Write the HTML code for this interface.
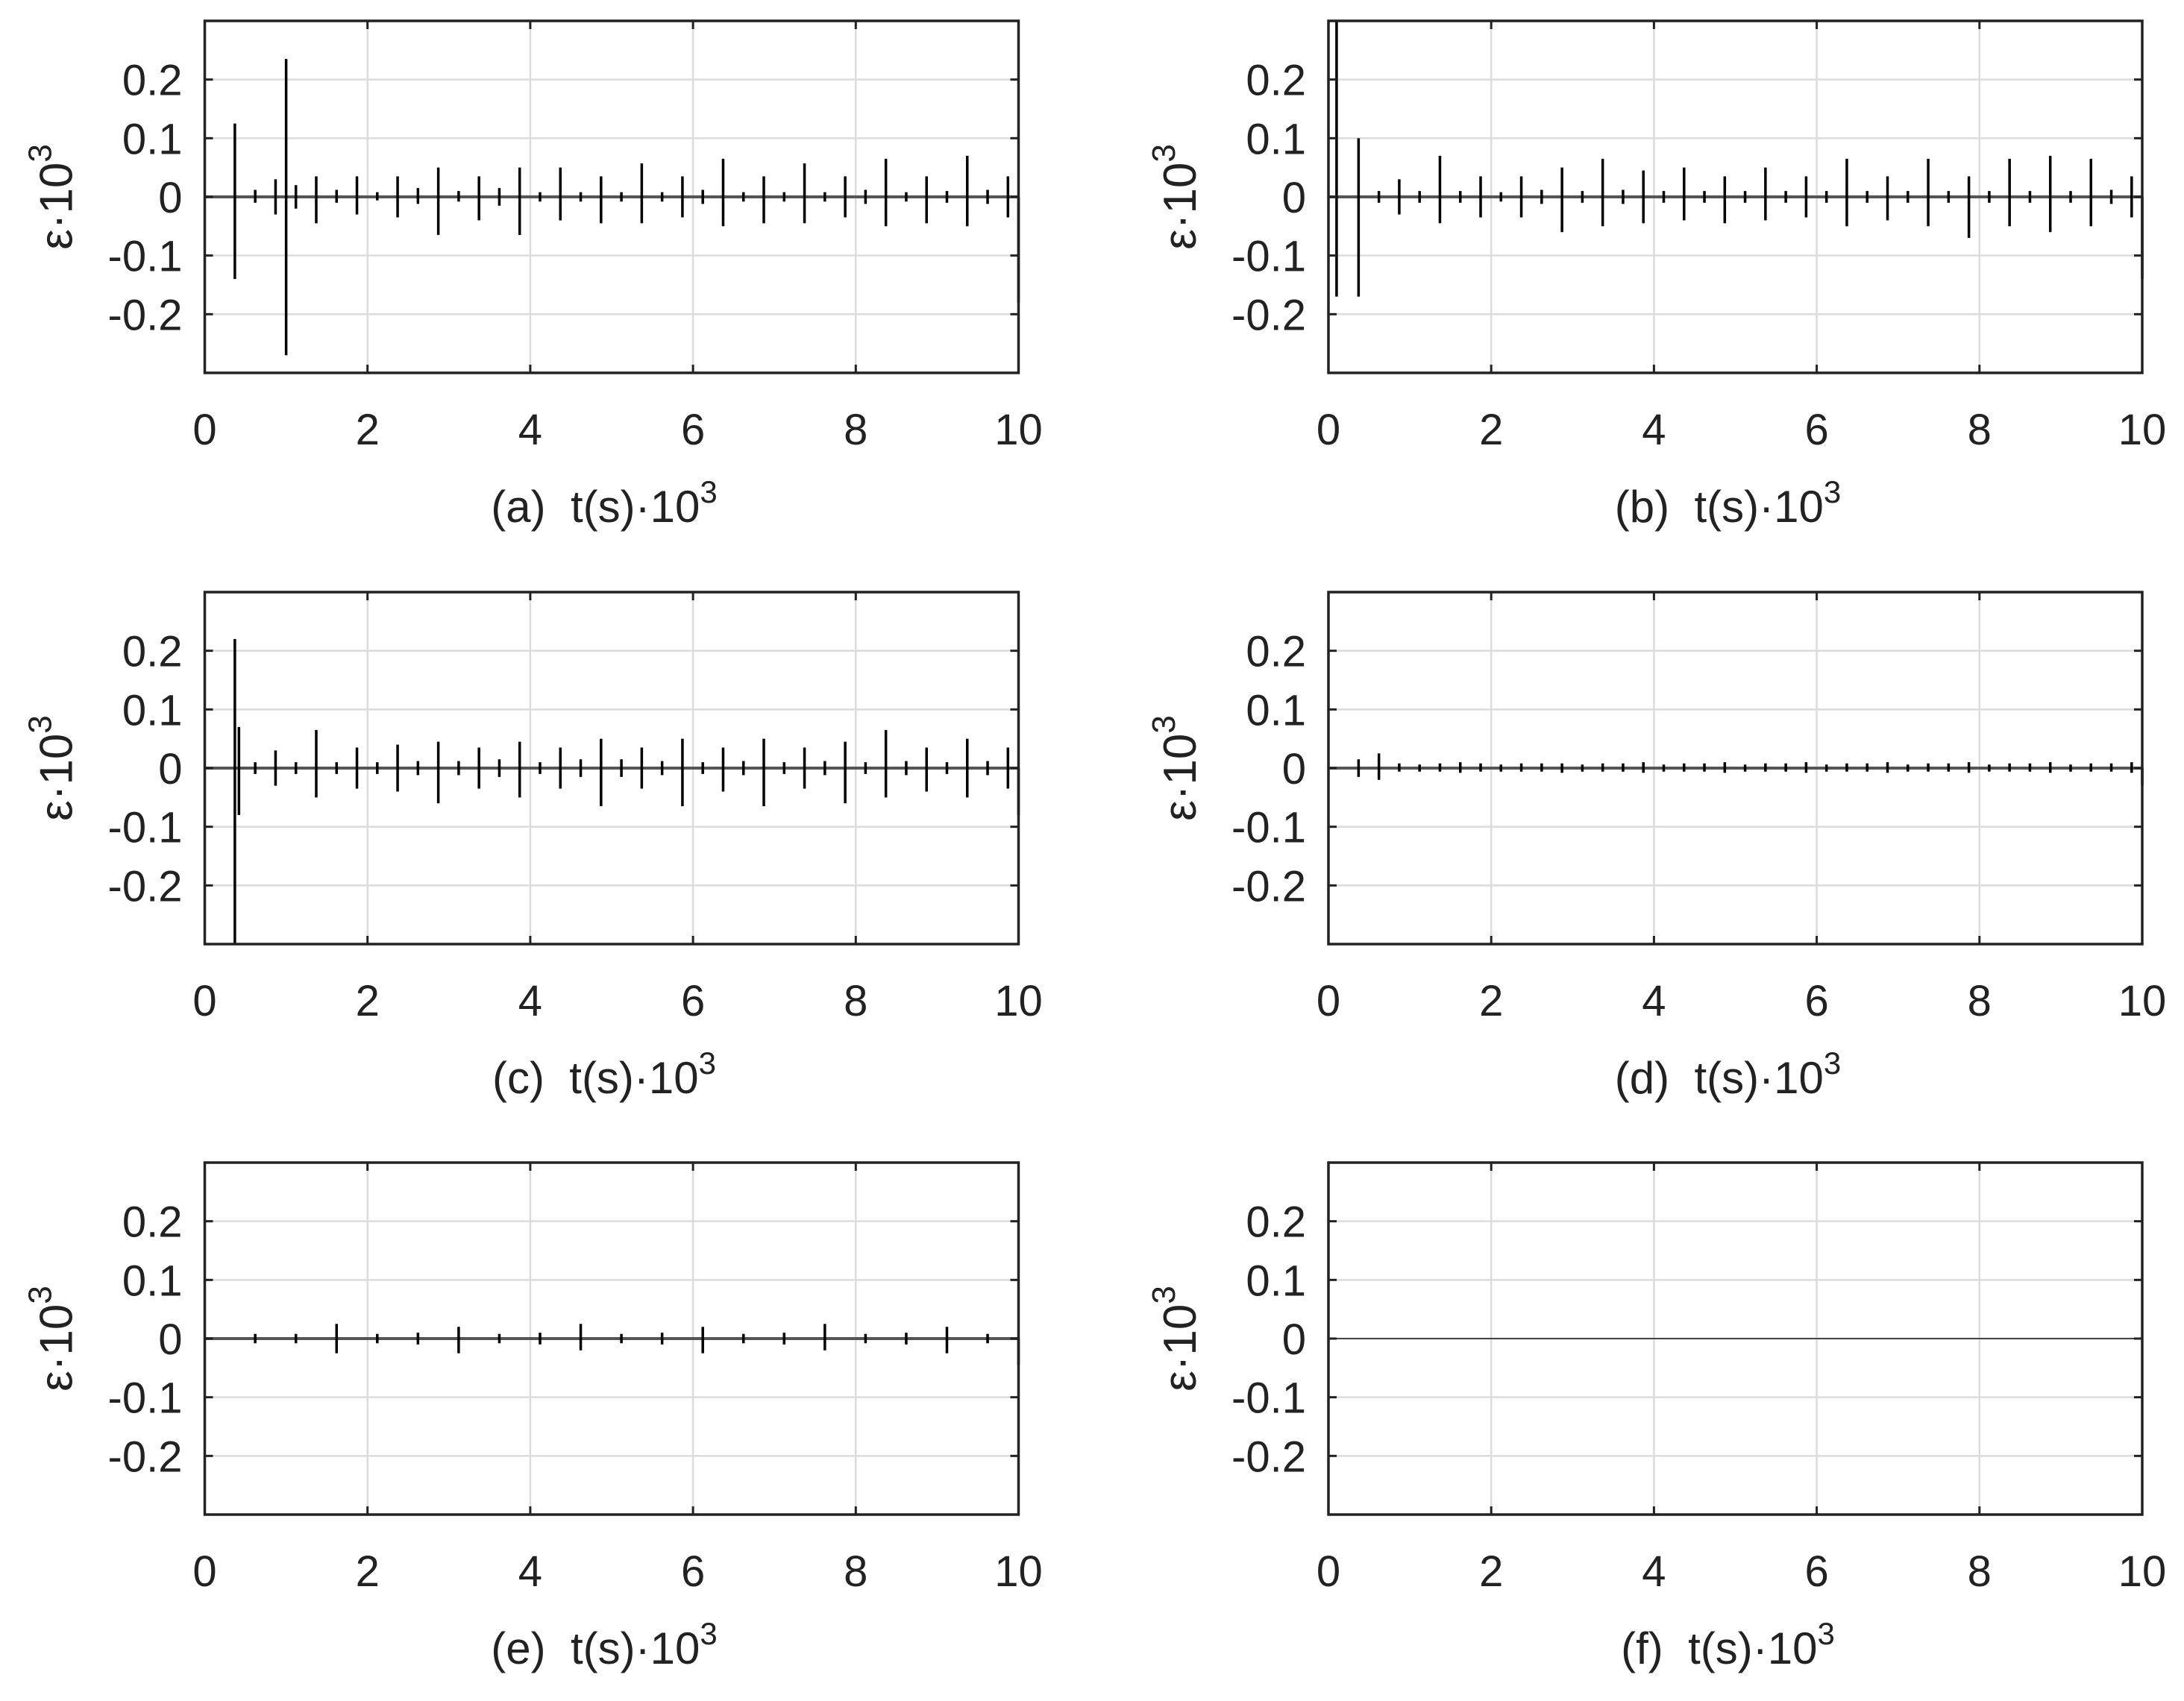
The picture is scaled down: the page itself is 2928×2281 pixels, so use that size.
<!DOCTYPE html>
<html><head><meta charset="utf-8"><style>
html,body{margin:0;padding:0;background:#fff;}
svg{display:block;font-family:"Liberation Sans",sans-serif;}
</style></head><body>
<svg id="fig" width="2928" height="2281" viewBox="0 0 2928 2281" xmlns="http://www.w3.org/2000/svg"></svg>
<script>
// Panel data: spike times (t·10^3 s), positive peaks and negative peaks (ε·10^3)
const panelLetters = ["a","b","c","d","e","f"];
const xTicks = [0,2,4,6,8,10];
const yTicks = [0.2,0.1,0,-0.1,-0.2];
const yTickLabels = ["0.2","0.1","0","-0.1","-0.2"];

const tA = [0.37,0.62,0.87,1.0,1.12,1.37,1.62,1.87,2.12,2.37,2.62,2.87,3.12,3.37,3.62,3.87,4.12,4.37,4.62,4.87,5.12,5.37,5.62,5.87,6.12,6.37,6.62,6.87,7.12,7.37,7.62,7.87,8.12,8.37,8.62,8.87,9.12,9.37,9.62,9.87,10];
const upA = [0.125,0.012,0.03,0.235,0.02,0.035,0.012,0.035,0.008,0.035,0.015,0.05,0.01,0.035,0.015,0.05,0.008,0.05,0.008,0.035,0.008,0.057,0.008,0.035,0.012,0.065,0.008,0.035,0.008,0.057,0.008,0.035,0.012,0.065,0.008,0.035,0.01,0.07,0.012,0.035,0];
const dnA = [-0.14,-0.01,-0.03,-0.27,-0.02,-0.045,-0.01,-0.03,-0.006,-0.035,-0.012,-0.065,-0.008,-0.04,-0.015,-0.065,-0.008,-0.04,-0.008,-0.045,-0.008,-0.045,-0.008,-0.035,-0.012,-0.05,-0.008,-0.045,-0.008,-0.045,-0.008,-0.035,-0.012,-0.05,-0.008,-0.045,-0.01,-0.05,-0.012,-0.035,-0.18];

const tB = [0.1,0.37,0.62,0.87,1.12,1.37,1.62,1.87,2.12,2.37,2.62,2.87,3.12,3.37,3.62,3.87,4.12,4.37,4.62,4.87,5.12,5.37,5.62,5.87,6.12,6.37,6.62,6.87,7.12,7.37,7.62,7.87,8.12,8.37,8.62,8.87,9.12,9.37,9.62,9.87,10];
const upB = [0.3,0.1,0.01,0.03,0.01,0.07,0.01,0.035,0.008,0.035,0.012,0.05,0.01,0.065,0.012,0.045,0.01,0.05,0.01,0.035,0.01,0.05,0.01,0.035,0.01,0.065,0.01,0.035,0.01,0.065,0.01,0.035,0.01,0.065,0.01,0.07,0.01,0.065,0.012,0.035,0];
const dnB = [-0.17,-0.17,-0.01,-0.03,-0.01,-0.045,-0.01,-0.035,-0.008,-0.035,-0.012,-0.06,-0.01,-0.05,-0.012,-0.045,-0.01,-0.04,-0.01,-0.045,-0.01,-0.04,-0.01,-0.035,-0.01,-0.05,-0.01,-0.04,-0.01,-0.05,-0.01,-0.07,-0.01,-0.05,-0.01,-0.06,-0.01,-0.05,-0.012,-0.035,-0.14];

const tC = [0.37,0.42,0.62,0.87,1.12,1.37,1.62,1.87,2.12,2.37,2.62,2.87,3.12,3.37,3.62,3.87,4.12,4.37,4.62,4.87,5.12,5.37,5.62,5.87,6.12,6.37,6.62,6.87,7.12,7.37,7.62,7.87,8.12,8.37,8.62,8.87,9.12,9.37,9.62,9.87,10];
const upC = [0.22,0.07,0.01,0.03,0.01,0.065,0.01,0.035,0.01,0.04,0.012,0.045,0.012,0.035,0.015,0.045,0.01,0.035,0.015,0.05,0.015,0.035,0.012,0.05,0.01,0.035,0.012,0.05,0.01,0.035,0.012,0.045,0.01,0.065,0.012,0.035,0.01,0.05,0.012,0.035,0];
const dnC = [-0.3,-0.08,-0.01,-0.03,-0.01,-0.05,-0.01,-0.035,-0.01,-0.04,-0.012,-0.06,-0.012,-0.035,-0.015,-0.05,-0.01,-0.035,-0.015,-0.065,-0.015,-0.035,-0.012,-0.065,-0.01,-0.04,-0.012,-0.065,-0.01,-0.035,-0.012,-0.06,-0.01,-0.05,-0.012,-0.04,-0.01,-0.05,-0.012,-0.035,-0.08];

const tD = [0.37,0.62,0.87,1.12,1.37,1.62,1.87,2.12,2.37,2.62,2.87,3.12,3.37,3.62,3.87,4.12,4.37,4.62,4.87,5.12,5.37,5.62,5.87,6.12,6.37,6.62,6.87,7.12,7.37,7.62,7.87,8.12,8.37,8.62,8.87,9.12,9.37,9.62,9.87,10];
const upD = [0.015,0.025,0.008,0.006,0.008,0.01,0.008,0.006,0.008,0.008,0.008,0.006,0.008,0.008,0.01,0.006,0.008,0.008,0.01,0.006,0.008,0.008,0.01,0.006,0.008,0.008,0.01,0.006,0.008,0.008,0.01,0.006,0.008,0.008,0.01,0.006,0.008,0.008,0.01,0];
const dnD = [-0.015,-0.02,-0.006,-0.006,-0.006,-0.008,-0.006,-0.006,-0.006,-0.006,-0.008,-0.006,-0.006,-0.006,-0.008,-0.006,-0.006,-0.006,-0.008,-0.006,-0.006,-0.006,-0.008,-0.006,-0.006,-0.006,-0.008,-0.006,-0.006,-0.006,-0.008,-0.006,-0.006,-0.006,-0.008,-0.006,-0.006,-0.006,-0.008,-0.03];

const tE = [0.62,1.12,1.62,2.12,2.62,3.12,3.62,4.12,4.62,5.12,5.62,6.12,6.62,7.12,7.62,8.12,8.62,9.12,9.62,10];
const upE = [0.008,0.008,0.025,0.008,0.01,0.02,0.008,0.01,0.025,0.008,0.01,0.02,0.008,0.01,0.025,0.008,0.01,0.02,0.008,0];
const dnE = [-0.008,-0.008,-0.025,-0.008,-0.01,-0.025,-0.008,-0.01,-0.02,-0.008,-0.01,-0.025,-0.008,-0.01,-0.02,-0.008,-0.01,-0.025,-0.008,-0.045];

const tF = [];
const upF = [];
const dnF = [];

const allT = [tA,tB,tC,tD,tE,tF];
const allUp = [upA,upB,upC,upD,upE,upF];
const allDn = [dnA,dnB,dnC,dnD,dnE,dnF];

const NS = "http://www.w3.org/2000/svg";
const svg = document.getElementById("fig");
const PW = 1091, PH = 472;
const lefts = [274.5, 1781];
const tops = [28, 794, 1559];
function mk(tag, attrs, parent){const e=document.createElementNS(NS,tag);for(const k in attrs)e.setAttribute(k,attrs[k]);parent.appendChild(e);return e;}

for (let p=0;p<6;p++){
  const L = lefts[p%2], T = tops[Math.floor(p/2)];
  const xs = v => L + v/10*PW;
  const ys = v => T + PH/2 - v/0.6*PH;
  const g = mk("g",{},svg);
  
  
  xTicks.forEach(v=>{
    const l=mk("line",{x1:xs(v),x2:xs(v),y1:T,y2:T+PH,stroke:"#dcdcdc","stroke-width":2.5},g);
    
    
  });
  yTicks.forEach(v=>{
    const l=mk("line",{x1:L,x2:L+PW,y1:ys(v),y2:ys(v),stroke:"#dcdcdc","stroke-width":2.5},g);
    
    
  });
  const base = mk("line",{x1:L,x2:L+PW,y1:ys(0),y2:ys(0),stroke:p===5?"#444":"#555","stroke-width":p===5?2:4},g);
  
  
  const tt=allT[p], uu=allUp[p], dd=allDn[p];
  for(let i=0;i<tt.length;i++){
    const s=mk("line",{x1:xs(tt[i]),x2:xs(tt[i]),y1:ys(Math.min(uu[i],0.3)),y2:ys(Math.max(dd[i],-0.3)),stroke:"#000","stroke-width":3.5},g);
    
    
  }
  xTicks.forEach(v=>{
    mk("line",{x1:xs(v),x2:xs(v),y1:T+PH,y2:T+PH-11,stroke:"#222","stroke-width":3},g);
    mk("line",{x1:xs(v),x2:xs(v),y1:T,y2:T+11,stroke:"#222","stroke-width":3},g);
    const tx=mk("text",{x:xs(v),y:T+PH+96,"font-size":58,"text-anchor":"middle",fill:"#222"},g);
    tx.textContent=String(v);
    
    
  });
  yTicks.forEach((v,i)=>{
    mk("line",{x1:L,x2:L+11,y1:ys(v),y2:ys(v),stroke:"#222","stroke-width":3},g);
    mk("line",{x1:L+PW,x2:L+PW-11,y1:ys(v),y2:ys(v),stroke:"#222","stroke-width":3},g);
    const tx=mk("text",{x:L-30,y:ys(v)+21,"font-size":58,"text-anchor":"end",fill:"#222"},g);
    tx.textContent=yTickLabels[i];
    
    
  });
  const box=mk("rect",{x:L,y:T,width:PW,height:PH,fill:"none",stroke:"#222","stroke-width":3.5},g);
  
  
  const xl=mk("text",{x:L+PW/2-10,y:T+PH+200,"font-size":60,"text-anchor":"middle",fill:"#222"},g);
  xl.innerHTML="("+panelLetters[p]+")\u00a0\u00a0t(s)\u00b710<tspan dy='-26' font-size='42'>3</tspan>";
  
  
  const yl=mk("text",{x:0,y:0,"font-size":62,"text-anchor":"middle",fill:"#222",transform:`translate(${L-178},${T+PH/2}) rotate(-90)`},g);
  yl.innerHTML="\u03b5\u00b710<tspan dy='-28' font-size='44'>3</tspan>";
  
  
}
</script>
</body></html>
